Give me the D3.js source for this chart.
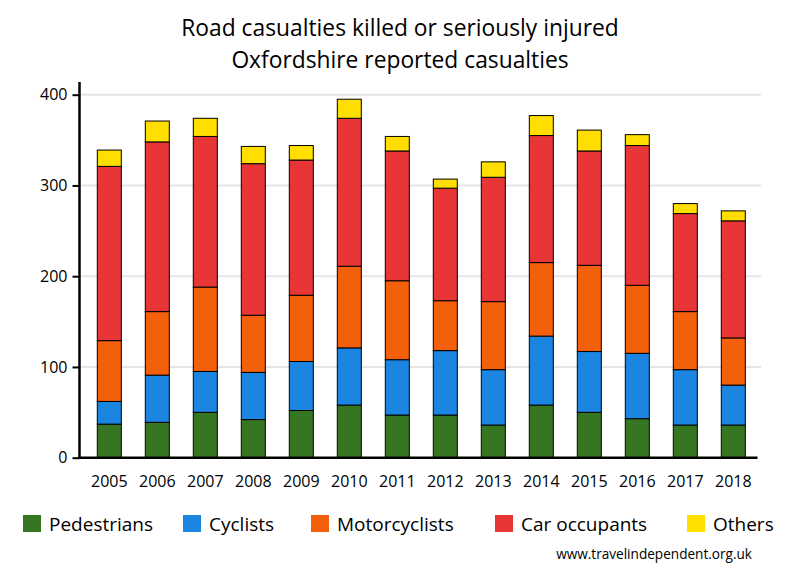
<!DOCTYPE html>
<html><head><meta charset="utf-8">
<script src="https://cdn.jsdelivr.net/npm/d3@7"></script>
<style>body{margin:0;background:#fff}svg{display:block}</style>
</head><body>
<svg id="chart" width="800" height="580"></svg>
<script>
const years = ["2005","2006","2007","2008","2009","2010","2011","2012","2013","2014","2015","2016","2017","2018"];
const seriesNames = ["Pedestrians","Cyclists","Motorcyclists","Car occupants","Others"];
const pedestrians   = [37, 39, 50, 42, 52, 58, 47, 47, 36, 58, 50, 43, 36, 36];
const cyclists      = [25, 52, 45, 52, 54, 63, 61, 71, 61, 76, 67, 72, 61, 44];
const motorcyclists = [67, 70, 93, 63, 73, 90, 87, 55, 75, 81, 95, 75, 64, 52];
const carOccupants  = [192,187,166,167,149,163,143,124,137,140,126,154,108,129];
const others        = [18, 23, 20, 19, 16, 21, 16, 10, 17, 22, 23, 12, 11, 11];
const yTicks = [0, 100, 200, 300, 400];
const colors = ["#367622","#1c84e1","#f45f0b","#e83535","#ffde00"];
const titleLines = ["Road casualties killed or seriously injured","Oxfordshire reported casualties"];
const source = "www.travelindependent.org.uk";

const font = "'Open Sans', sans-serif";
const svg = d3.select("#chart");
const rows = years.map((y,i)=>({year:y, "Pedestrians":pedestrians[i], "Cyclists":cyclists[i], "Motorcyclists":motorcyclists[i], "Car occupants":carOccupants[i], "Others":others[i]}));
const stacked = d3.stack().keys(seriesNames)(rows);

const x = d3.scaleBand().domain(years).range([85.3, 757.3]).paddingInner(0.5).paddingOuter(0.25);
const y = d3.scaleLinear().domain([0, 400]).range([457.7, 94.7]);

// gridlines
svg.append("g").selectAll("line").data(yTicks.filter(d=>d>0)).join("line")
  .attr("x1", 80).attr("x2", 761).attr("y1", d=>y(d)).attr("y2", d=>y(d))
  .attr("stroke", "#e6e6e6").attr("stroke-width", 2);

// bars
svg.append("g").selectAll("g").data(stacked).join("g")
  .attr("fill", (d,i)=>colors[i])
  .selectAll("rect").data(d=>d).join("rect")
  .attr("x", d=>x(d.data.year)).attr("width", x.bandwidth())
  .attr("y", d=>y(d[1])).attr("height", d=>y(d[0])-y(d[1]))
  .attr("stroke", "#000").attr("stroke-width", 1);

// y axis
const ya = svg.append("g").attr("transform", "translate(79.5,0)")
  .call(d3.axisLeft(y).tickValues(yTicks).tickSize(7).tickPadding(5).tickFormat(d3.format("d")));
ya.select(".domain").attr("stroke", "#000").attr("stroke-width", 2.5).attr("d", `M0,${y(0)}V82`);
ya.selectAll(".tick line").attr("stroke", "#000").attr("stroke-width", 2);
ya.selectAll(".tick text").attr("font-family", font).attr("font-size", 16).attr("fill", "#000");

// x axis
const xa = svg.append("g").attr("transform", `translate(0,${y(0)})`)
  .call(d3.axisBottom(x).tickSize(0).tickPadding(18));
xa.select(".domain").attr("stroke", "#000").attr("stroke-width", 2.5).attr("d", "M78,0H757.5");
xa.selectAll(".tick text").attr("font-family", font).attr("font-size", 16).attr("fill", "#000");

// title
svg.append("g").selectAll("text").data(titleLines).join("text")
  .attr("x", 400).attr("y", (d,i)=>36 + i*32)
  .attr("text-anchor", "middle").attr("font-family", font).attr("font-size", 22.8).attr("fill", "#000")
  .text(d=>d);

// legend
const legendX = [23, 183, 311, 495, 687];
const lg = svg.append("g").selectAll("g").data(seriesNames).join("g")
  .attr("transform", (d,i)=>`translate(${legendX[i]},515)`);
lg.append("rect").attr("width", 18).attr("height", 17).attr("fill", (d,i)=>colors[i]);
lg.append("text").attr("x", 26).attr("y", 15.5).attr("font-family", font).attr("font-size", 19).attr("fill", "#000").text(d=>d);

svg.append("text").attr("x", 752).attr("y", 559).attr("text-anchor", "end")
  .attr("font-family", font).attr("font-size", 13.6).attr("fill", "#000").text(source);
</script>
</body></html>
